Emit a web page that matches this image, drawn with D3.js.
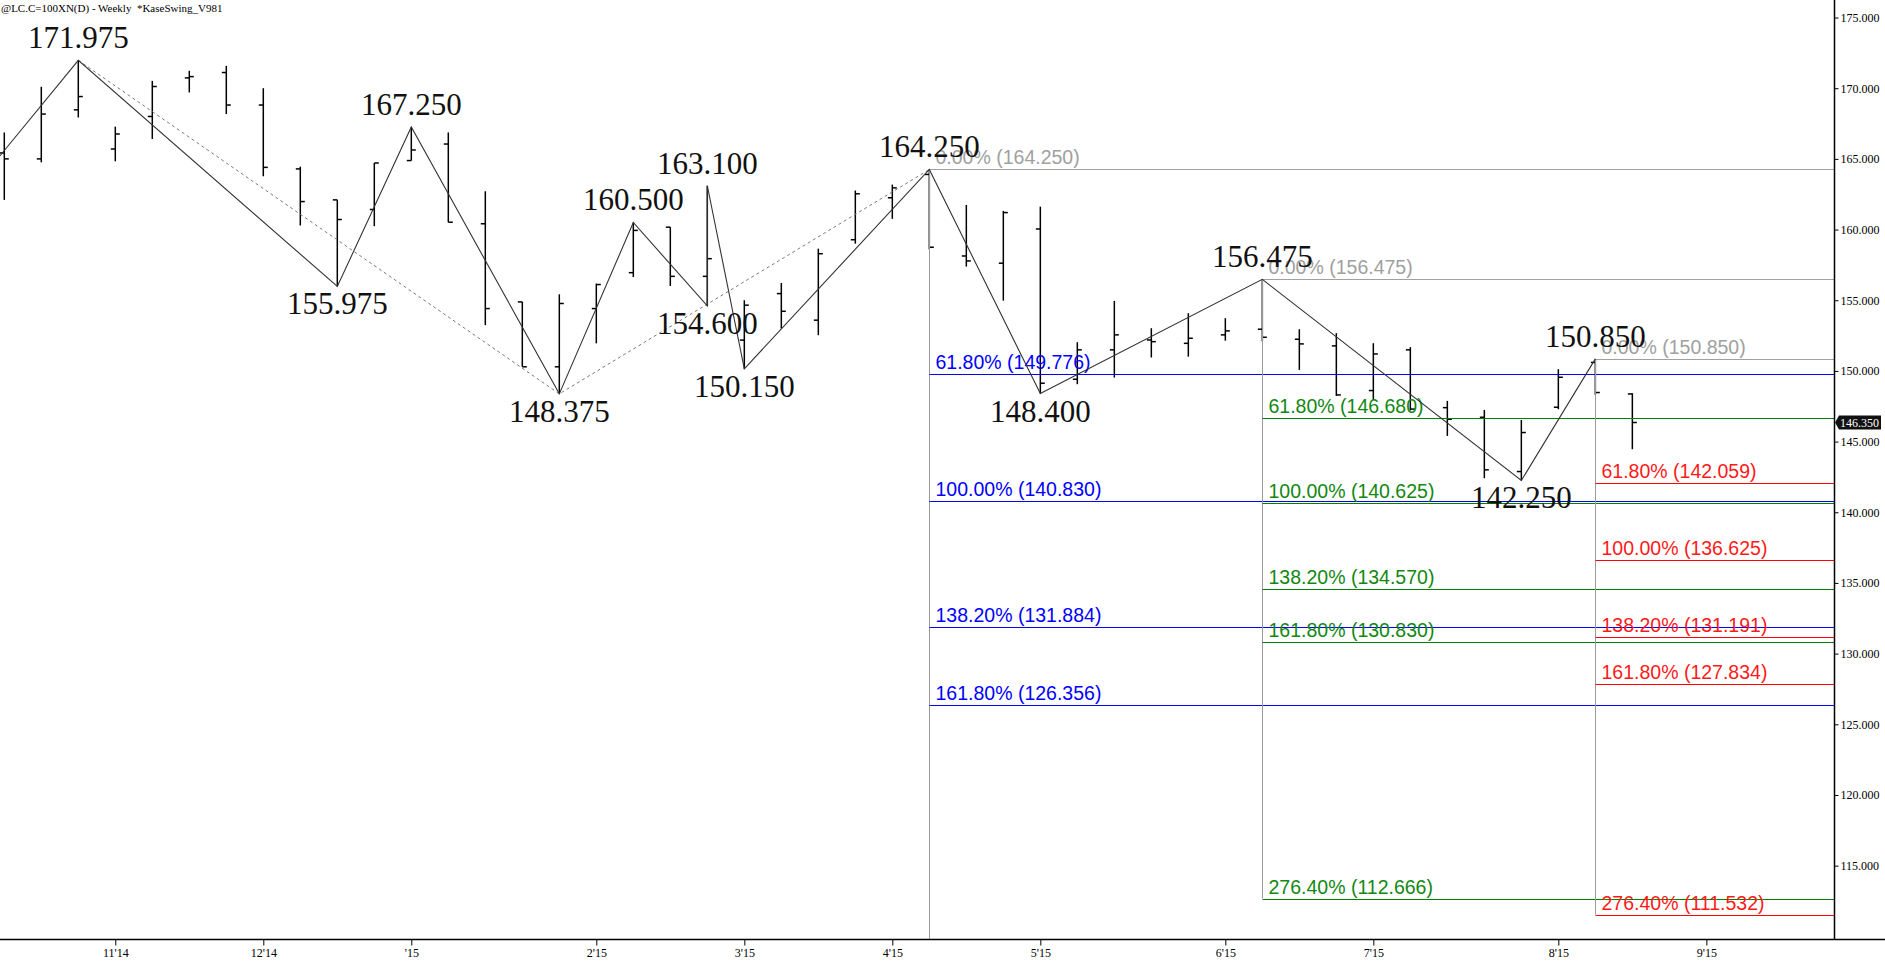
<!DOCTYPE html>
<html><head><meta charset="utf-8">
<script src="https://cdn.jsdelivr.net/npm/d3@7"></script>
<style>body{margin:0;background:#fff;overflow:hidden;} svg{display:block;}</style>
</head><body>
<svg id="c" width="1885" height="968"></svg>
<script>
// ---- data (weekly OHLC, bar index 0..44) ----
const opens  = [165.42,165.00,168.47,165.70,168.00,170.73,171.11,168.81,164.29,162.10,161.42,164.88,166.05,160.41,154.88,150.29,154.41,156.95,160.17,156.69,152.18,155.47,153.59,159.28,162.25,163.90,158.13,157.62,160.04,149.41,151.49,152.19,151.95,152.55,152.95,152.24,151.77,148.61,151.49,147.40,146.72,142.88,147.43,150.60,148.37];
const highs  = [166.87,170.10,171.975,167.28,170.52,171.23,171.58,170.00,164.45,162.10,164.71,167.25,166.87,162.71,154.88,155.42,156.18,160.50,160.17,163.10,155.00,156.22,158.65,162.76,163.18,164.25,161.74,161.32,161.62,152.03,154.95,153.02,154.08,153.73,156.475,152.95,152.67,151.96,151.68,147.88,147.24,146.53,150.12,150.85,148.42];
const lows   = [162.10,164.76,167.93,164.83,166.41,169.70,168.17,163.77,160.29,155.975,160.24,164.88,160.52,153.24,150.29,148.375,151.95,156.64,156.01,154.60,150.15,153.00,152.53,159.00,160.76,158.60,157.38,154.97,148.40,149.06,149.53,150.95,151.01,152.14,152.10,150.07,148.23,147.95,147.20,145.40,142.41,142.25,147.29,148.30,144.46];
const closes = [165.00,168.17,169.41,166.76,170.12,170.82,168.81,164.40,161.98,160.71,164.71,165.63,160.52,154.41,150.29,154.77,156.11,159.94,156.69,157.94,154.65,154.22,158.29,162.53,162.95,158.75,157.78,161.20,149.13,151.49,152.55,152.07,152.31,152.83,152.38,151.91,148.30,151.20,147.30,146.58,143.00,145.64,149.55,148.47,146.35];

const tickIdx    = [3,7,11,16,20,24,28,33,37,42,46];
const tickLabels = ["11'14","12'14","'15","2'15","3'15","4'15","5'15","6'15","7'15","8'15","9'15"];
const yTicks     = [115,120,125,130,135,140,145,150,155,160,165,170,175];

// KaseSwing pivots
const pivotIdx  = [-1,2,9,11,15,17,19,19,20,25,28,34,41,43];
const pivotVal  = [162.4,171.975,155.975,167.25,148.375,160.5,154.6,163.1,150.15,164.25,148.4,156.475,142.25,150.85];
const pivotType = ["none","H","L","H","L","H","L","H","L","H","L","H","L","H"];
// dotted swing line
const dashIdx = [2,15,25];
const dashVal = [171.975,148.375,164.25];

// Fibonacci projections
const fibPcts      = ["0.00%","61.80%","100.00%","138.20%","161.80%","276.40%"];
const blueIdx      = 25;
const blueLevels   = [164.250,149.776,140.830,131.884,126.356,99.518];
const greenIdx     = 34;
const greenLevels  = [156.475,146.680,140.625,134.570,130.830,112.666];
const redIdx       = 43;
const redLevels    = [150.850,142.059,136.625,131.191,127.834,111.532];
const lastPrice    = 146.350;
const titleText    = "@LC.C=100XN(D) - Weekly  *KaseSwing_V981";

// ---- layout ----
const W = 1885, H = 968;
const plotR = 1834, plotB = 939;
const svg = d3.select("#c");
const x = d3.scaleLinear().domain([-0.116, 49.45]).range([0, plotR]);
const y = d3.scaleLinear().domain([109.81, 176.24]).range([plotB, 0]);
const [yMin, yMax] = y.domain();

svg.append("defs").append("clipPath").attr("id","clip")
  .append("rect").attr("x",0).attr("y",0).attr("width",plotR).attr("height",plotB);
const plot = svg.append("g").attr("clip-path","url(#clip)");

// bars
const idx = d3.range(opens.length);
const barG = plot.append("g").attr("stroke","#000").attr("stroke-width",1.5);
barG.selectAll("line.v").data(idx).join("line").attr("class","v")
  .attr("x1",i=>x(i)).attr("x2",i=>x(i)).attr("y1",i=>y(highs[i])).attr("y2",i=>y(lows[i]));
barG.selectAll("line.o").data(idx).join("line").attr("class","o")
  .attr("x1",i=>x(i)-4.5).attr("x2",i=>x(i)).attr("y1",i=>y(opens[i])).attr("y2",i=>y(opens[i]));
barG.selectAll("line.c").data(idx).join("line").attr("class","c")
  .attr("x1",i=>x(i)).attr("x2",i=>x(i)+4.5).attr("y1",i=>y(closes[i])).attr("y2",i=>y(closes[i]));

// fib sets
const sets = [
  {i:blueIdx, lv:blueLevels, col:"#0000ff", tcol:"#0000ff"},
  {i:greenIdx, lv:greenLevels, col:"#008000", tcol:"#118811"},
  {i:redIdx, lv:redLevels, col:"#ff0000", tcol:"#ff1a1a"}
];
const fibG = plot.append("g");
sets.forEach(s => {
  const x0 = Math.round(x(s.i)) + 0.5;
  fibG.append("line").attr("x1",x0).attr("x2",x0)
    .attr("y1",y(s.lv[0])).attr("y2",Math.min(plotB, y(s.lv[s.lv.length-1])))
    .attr("stroke","#9a9a9a").attr("stroke-width",1);
  s.lv.forEach((v,k) => {
    if (v < yMin || v > yMax) return;
    const col = k===0 ? "#a0a0a0" : s.col;
    const yy = Math.round(y(v)) + 0.5;
    fibG.append("line").attr("x1",x0).attr("x2",plotR).attr("y1",yy).attr("y2",yy)
      .attr("stroke",col).attr("stroke-width",1.2);
    fibG.append("text").attr("x",x0+6).attr("y",yy-6)
      .attr("fill", k===0 ? "#a0a0a0" : s.tcol)
      .attr("font-family","'Liberation Sans', Arial, sans-serif").attr("font-size",19.5)
      .text(`${fibPcts[k]} (${v.toFixed(3)})`);
  });
});

// dotted swing line
const line = d3.line().x(d=>x(d[0])).y(d=>y(d[1]));
plot.append("path").datum(dashIdx.map((d,k)=>[d,dashVal[k]]))
  .attr("d",line).attr("fill","none").attr("stroke","#7a7a7a").attr("stroke-width",1)
  .attr("stroke-dasharray","3,3");
// zigzag
plot.append("path").datum(pivotIdx.map((d,k)=>[d,pivotVal[k]]))
  .attr("d",line).attr("fill","none").attr("stroke","#333").attr("stroke-width",1.1);

// pivot labels
const lab = plot.append("g").attr("font-family","'Liberation Serif','Times New Roman',serif")
  .attr("font-size",31).attr("fill","#111").attr("text-anchor","middle");
pivotIdx.forEach((p,k)=>{
  if (pivotType[k]==="none") return;
  const yy = y(pivotVal[k]) + (pivotType[k]==="H" ? -12 : 28);
  lab.append("text").attr("x",x(p)).attr("y",yy).text(pivotVal[k].toFixed(3));
});

// axes
svg.append("line").attr("x1",0).attr("x2",W).attr("y1",plotB+0.5).attr("y2",plotB+0.5)
  .attr("stroke","#000").attr("stroke-width",1.5);
svg.append("line").attr("x1",plotR+0.5).attr("x2",plotR+0.5).attr("y1",0).attr("y2",plotB)
  .attr("stroke","#000").attr("stroke-width",1.5);

const yAxis = d3.axisRight(y).tickValues(yTicks).tickFormat(d3.format(".3f")).tickSize(4).tickPadding(2);
const ya = svg.append("g").attr("transform",`translate(${plotR+0.5},0)`).call(yAxis);
ya.select(".domain").remove();
ya.selectAll("text").attr("font-family","'Liberation Serif','Times New Roman',serif").attr("font-size",12).attr("fill","#000");
ya.selectAll("line").attr("stroke","#000");

const xTick = d3.scaleOrdinal().domain(tickIdx).range(tickLabels);
const xAxis = d3.axisBottom(x).tickValues(tickIdx).tickFormat(d=>xTick(d)).tickSize(6).tickPadding(3);
const xa = svg.append("g").attr("transform",`translate(0,${plotB+0.5})`).call(xAxis);
xa.select(".domain").remove();
xa.selectAll("text").attr("font-family","'Liberation Serif','Times New Roman',serif").attr("font-size",12).attr("fill","#000");
xa.selectAll("line").attr("stroke","#000");

// last price marker
const ly = y(lastPrice);
svg.append("path").attr("d",`M${plotR+1},${ly} L${plotR+5},${ly-7} L${plotR+47},${ly-7} L${plotR+47},${ly+7} L${plotR+5},${ly+7} Z`)
  .attr("fill","#111");
svg.append("text").attr("x",plotR+6).attr("y",ly).attr("dy","0.35em")
  .attr("font-family","'Liberation Serif','Times New Roman',serif").attr("font-size",12).attr("fill","#fff")
  .text(lastPrice.toFixed(3));

// title
svg.append("text").attr("x",1).attr("y",12).attr("font-family","'Liberation Serif','Times New Roman',serif")
  .attr("font-size",11).attr("fill","#000").style("white-space","pre").text(titleText);
</script>
</body></html>
